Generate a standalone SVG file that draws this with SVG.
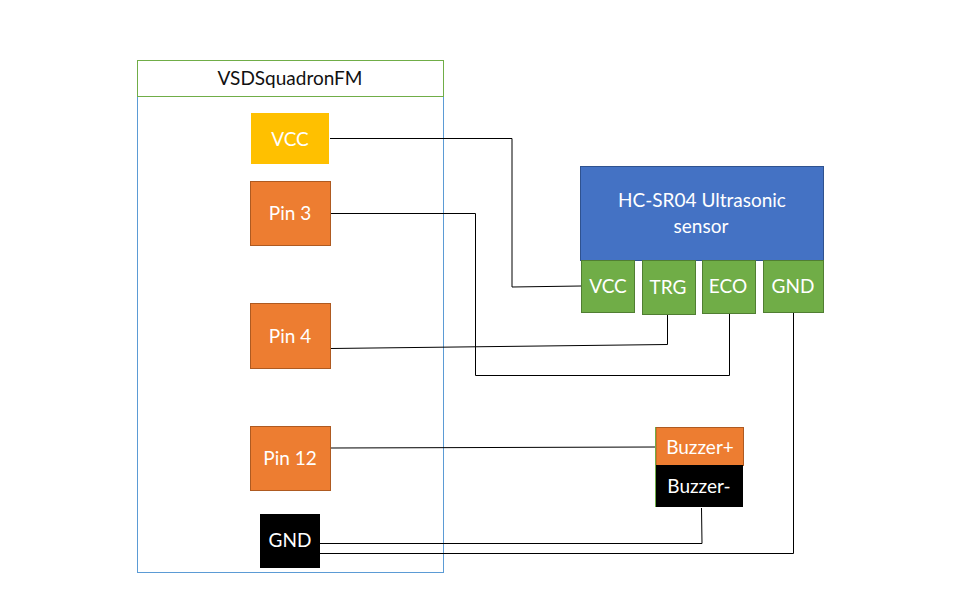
<svg xmlns="http://www.w3.org/2000/svg" width="968" height="615" viewBox="0 0 968 615">
<style>
text{font-family:Lato,"Open Sans","Liberation Sans",sans-serif;font-size:19px;text-anchor:middle;fill:#fff}
.dark{fill:#111}
.orange{fill:#ed7d31;stroke:#ae5a21;stroke-width:1}
.green{fill:#70ad47;stroke:#507e32;stroke-width:1}
.wire{fill:none;stroke:#000;stroke-width:1}
</style>
<rect width="968" height="615" fill="#fff"/>
<g id="board">
<rect x="137.5" y="60.5" width="306" height="512" fill="#fff" stroke="#5b9bd5"/>
<rect x="137.5" y="60.5" width="306" height="36" fill="#fff" stroke="#70ad47"/>
<text class="dark" x="290" y="85">VSDSquadronFM</text>
</g>
<g id="connectors">
<path class="wire" d="M330 138.500H512V287L581 286"/>
<path class="wire" d="M330 213.500H475.500V375.500H729.500V314"/>
<path class="wire" d="M331 348.500L667.500 344.500V315"/>
<path class="wire" d="M331 448L656 447"/>
<path class="wire" d="M320 543.500H702L701.500 508"/>
<path class="wire" d="M320 553.500H793.500V313"/>
</g>
<g id="vcc-pin"><rect x="251" y="113" width="78" height="51" fill="#ffc000"/><text x="290" y="146">VCC</text></g>
<g id="pin3"><rect class="orange" x="250.500" y="181.500" width="80" height="64"/><text x="290" y="220">Pin 3</text></g>
<g id="pin4"><rect class="orange" x="250.500" y="303.500" width="80" height="65"/><text x="290" y="343">Pin 4</text></g>
<g id="pin12"><rect class="orange" x="250.500" y="426.500" width="80" height="64"/><text x="290" y="465">Pin 12</text></g>
<g id="gnd-pin"><rect x="260" y="514" width="60" height="54" fill="#000"/><text x="290" y="547">GND</text></g>
<g id="sensor"><rect x="580.500" y="166.500" width="243" height="94" fill="#4472c4" stroke="#2f528f"/><text x="702" y="207">HC-SR04 Ultrasonic</text><text x="701" y="233">sensor</text></g>
<g id="sensor-vcc"><rect class="green" x="581.500" y="260.500" width="53" height="52"/><text x="608" y="293">VCC</text></g>
<g id="sensor-trg"><rect class="green" x="642.500" y="260.500" width="53" height="54"/><text x="668" y="294">TRG</text></g>
<g id="sensor-eco"><rect class="green" x="702.500" y="260.500" width="53" height="53"/><text x="728" y="293">ECO</text></g>
<g id="sensor-gnd"><rect class="green" x="763.500" y="260.500" width="60" height="52"/><text x="793" y="293">GND</text></g>
<g id="buzzer-plus"><rect class="orange" x="656" y="427.500" width="87.500" height="38"/><text x="700" y="454">Buzzer+</text></g>
<g id="buzzer-minus"><rect x="656" y="465" width="87" height="42" fill="#000"/><path d="M655.500 427V507" stroke="#70ad47" fill="none"/><text x="699" y="493">Buzzer-</text></g>
</svg>
